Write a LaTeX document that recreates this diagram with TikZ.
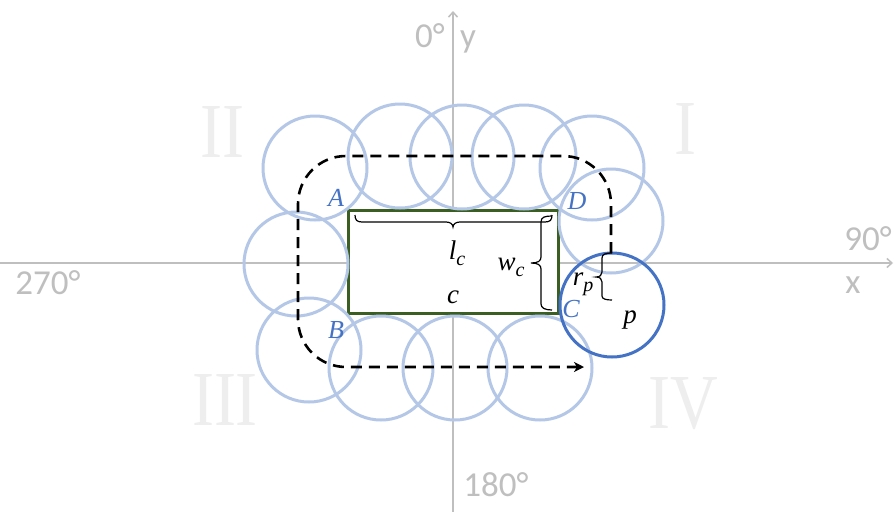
\documentclass[tikz,border=0pt]{standalone}
\usepackage{fontspec}
\newfontfamily\axisfont{Carlito}
\newfontfamily\romanfont{Liberation Serif}
\newfontfamily\labelfont{Liberation Serif}
\usetikzlibrary{arrows.meta}
\definecolor{lightblue}{HTML}{B4C7E7}
\definecolor{darkblue}{HTML}{4472C4}
\definecolor{axisgray}{HTML}{BFBFBF}
\definecolor{romangray}{HTML}{EEEEEE}
\definecolor{rectgreen}{HTML}{3B5F22}
\newcommand{\subc}[1]{\raisebox{-6pt}{\fontsize{20}{22}\selectfont\labelfont\itshape #1}}
\tikzset{
  axisline/.style={draw=axisgray, line width=1.5pt, -{Straight Barb[length=5pt,width=9pt]}},
  axislabel/.style={text=axisgray, font=\axisfont\fontsize{35}{40}\selectfont, anchor=base, inner sep=0pt},
  romanlabel/.style={text=romangray, font=\romanfont\fontsize{66}{70}\selectfont, anchor=base, inner sep=0pt},
  bcirc/.style={circle, draw=lightblue, line width=3pt, minimum size=104pt, inner sep=0pt},
  pcirc/.style={circle, draw=darkblue, line width=3pt, minimum size=104pt, inner sep=0pt},
  cornerlabel/.style={text=darkblue, font=\labelfont\fontsize{26}{28}\selectfont\itshape, anchor=base, inner sep=0pt},
  mathlabel/.style={text=black, font=\labelfont\fontsize{27}{30}\selectfont\itshape, anchor=base, inner sep=0pt},
  bracestyle/.style={draw=black, line width=1.2pt},
  pathstyle/.style={draw=black, line width=2.6pt, dash pattern=on 11pt off 7pt, rounded corners=48pt},
}
\begin{document}
\begin{tikzpicture}[x=1pt,y=-1pt]
\useasboundingbox[fill=white] (0,0) rectangle (894,512);
% quadrant numerals
\node[romanlabel] (qII) at (222,157) {\scalebox{1}[1.18]{II}};
\node[romanlabel] (qI) at (685,154) {\scalebox{1}[1.18]{I}};
\node[romanlabel] (qIII) at (225,425) {\scalebox{1}[1.18]{III}};
\node[romanlabel] (qIV) at (683,428) {\scalebox{1}[1.18]{IV}};
% axes
\coordinate (ybot) at (453,512);
\coordinate (ytop) at (453,11);
\coordinate (xleft) at (0,263);
\coordinate (xright) at (893,263);
\draw[axisline] (ybot) -- (ytop);
\draw[axisline] (xleft) -- (xright);
\node[axislabel] (l0) at (430,47) {0°};
\node[axislabel] (ly) at (468,47) {y};
\node[axislabel] (l90) at (868,250) {90°};
\node[axislabel] (lx) at (853,293) {x};
\node[axislabel] (l270) at (48,294) {270°};
\node[axislabel] (l180) at (496,496) {180°};
% rectangle c
\draw[draw=rectgreen, fill=white, line width=3pt] (348,210) rectangle (558,313);
% circles
\node[bcirc] (c1) at (315,168) {};
\node[bcirc] (c2) at (400,156) {};
\node[bcirc] (c3) at (462,157) {};
\node[bcirc] (c4) at (524,157) {};
\node[bcirc] (c5) at (592,168) {};
\node[bcirc] (c6) at (611,221) {};
\node[bcirc] (c7) at (296,264) {};
\node[bcirc] (c8) at (309,350) {};
\node[bcirc] (c9) at (381,368) {};
\node[bcirc] (c10) at (455,368) {};
\node[bcirc] (c11) at (540,368) {};
\node[pcirc] (p) at (612,305) {};
% dashed path
\coordinate (s0) at (611,253);
\coordinate (s1) at (611,156);
\coordinate (s2) at (298,156);
\coordinate (s3) at (298,367);
\coordinate (s4) at (584,367);
\draw[pathstyle, -{Stealth[length=10pt,width=10pt,inset=3pt]}] (s0) -- (s1) -- (s2) -- (s3) -- (s4);
% braces
\coordinate (lcL) at (355,215);
\coordinate (lcR) at (552,215);
\draw[bracestyle] (lcL) .. controls (355,220) and (357,222) .. (362,222) -- (446,222)
  .. controls (450,222) and (453,224) .. (453,227)
  .. controls (453,224) and (456,222) .. (460,222) -- (545,222)
  .. controls (550,222) and (552,220) .. (lcR);
\coordinate (wcT) at (552,216);
\coordinate (wcB) at (552,310);
\draw[bracestyle] (wcT) .. controls (545,216) and (541,217) .. (541,222) -- (541,257)
  .. controls (541,261) and (538,263) .. (531,263)
  .. controls (538,263) and (541,265) .. (541,269) -- (541,304)
  .. controls (541,308) and (545,310) .. (wcB);
\coordinate (rpT) at (612,253);
\coordinate (rpB) at (612,300);
\draw[bracestyle] (rpT) .. controls (606,253) and (602,254) .. (602,258) -- (602,272)
  .. controls (602,275) and (600,277) .. (596,277)
  .. controls (600,277) and (602,279) .. (602,282) -- (602,296)
  .. controls (602,299) and (606,300) .. (rpB);
% labels
\node[cornerlabel] (A) at (336,206) {A};
\node[cornerlabel] (D) at (577,209) {D};
\node[cornerlabel] (B) at (336,338) {B};
\node[cornerlabel] (C) at (571,317) {C};
\node[mathlabel] (lc) at (457,259) {l\subc{c}};
\node[mathlabel] (wc) at (511,270) {w\subc{c}};
\node[mathlabel] (cc) at (453,303) {c};
\node[mathlabel] (rp) at (583,285) {r\subc{p}};
\node[mathlabel] (pl) at (630,323) {p};
\end{tikzpicture}
\end{document}
